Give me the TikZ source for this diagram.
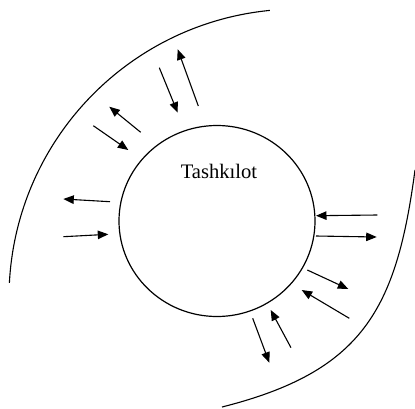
\documentclass[tikz,border=0pt]{standalone}
\usepackage{fontspec}
\setmainfont{Liberation Serif}
\usetikzlibrary{arrows.meta,shapes.geometric}
\begin{document}
\begin{tikzpicture}[x=1pt,y=-1pt,
  flow/.style={line width=1.1pt,-{Triangle[length=10.5pt,width=8.5pt]}},
  rim/.style={line width=1.1pt},
  org/.style={draw,line width=1.2pt,ellipse,minimum width=196pt,minimum height=191pt,inner sep=0pt},
  lbl/.style={font=\fontsize{20.6}{24}\selectfont,anchor=base,inner sep=0pt}]
\useasboundingbox (0,0) rectangle (415,408);
% central organisation
\node[org] (tash) at (217,221) {};
\node[lbl] (name) at (219,178) {Tashkılot};
% outer environment boundaries
\coordinate (upA) at (269.8,10.4);
\draw[rim] (upA) arc[start angle=264.4,end angle=183,radius=289];
\coordinate (loA) at (415,170);
\coordinate (loB) at (222,407);
\draw[rim] (loA) .. controls (396.4,310) and (362.5,371.5) .. (loB);
% arrow end points
\coordinate (s1) at (159.3,67.7);  \coordinate (e1) at (177.7,112.7);
\coordinate (s2) at (198.3,106);   \coordinate (e2) at (177.7,49.3);
\coordinate (s3) at (140.7,132.3); \coordinate (e3) at (109.3,106.7);
\coordinate (s4) at (93.3,125.7);  \coordinate (e4) at (128.3,150);
\coordinate (s5) at (110,201.7);   \coordinate (e5) at (63.3,199);
\coordinate (s6) at (63.3,236.7);  \coordinate (e6) at (108.3,234.3);
\coordinate (s7) at (377.3,215);   \coordinate (e7) at (316,215.7);
\coordinate (s8) at (316,236);     \coordinate (e8) at (376.7,237);
\coordinate (s9) at (307.3,270);   \coordinate (e9) at (348.3,289);
\coordinate (s10) at (349.3,318.3); \coordinate (e10) at (301.7,290);
\coordinate (s11) at (252.7,318.3); \coordinate (e11) at (269.3,362.7);
\coordinate (s12) at (291,347.7);  \coordinate (e12) at (270.7,310);
\foreach \i in {1,...,12} {\draw[flow] (s\i) -- (e\i);}
\end{tikzpicture}
\end{document}
